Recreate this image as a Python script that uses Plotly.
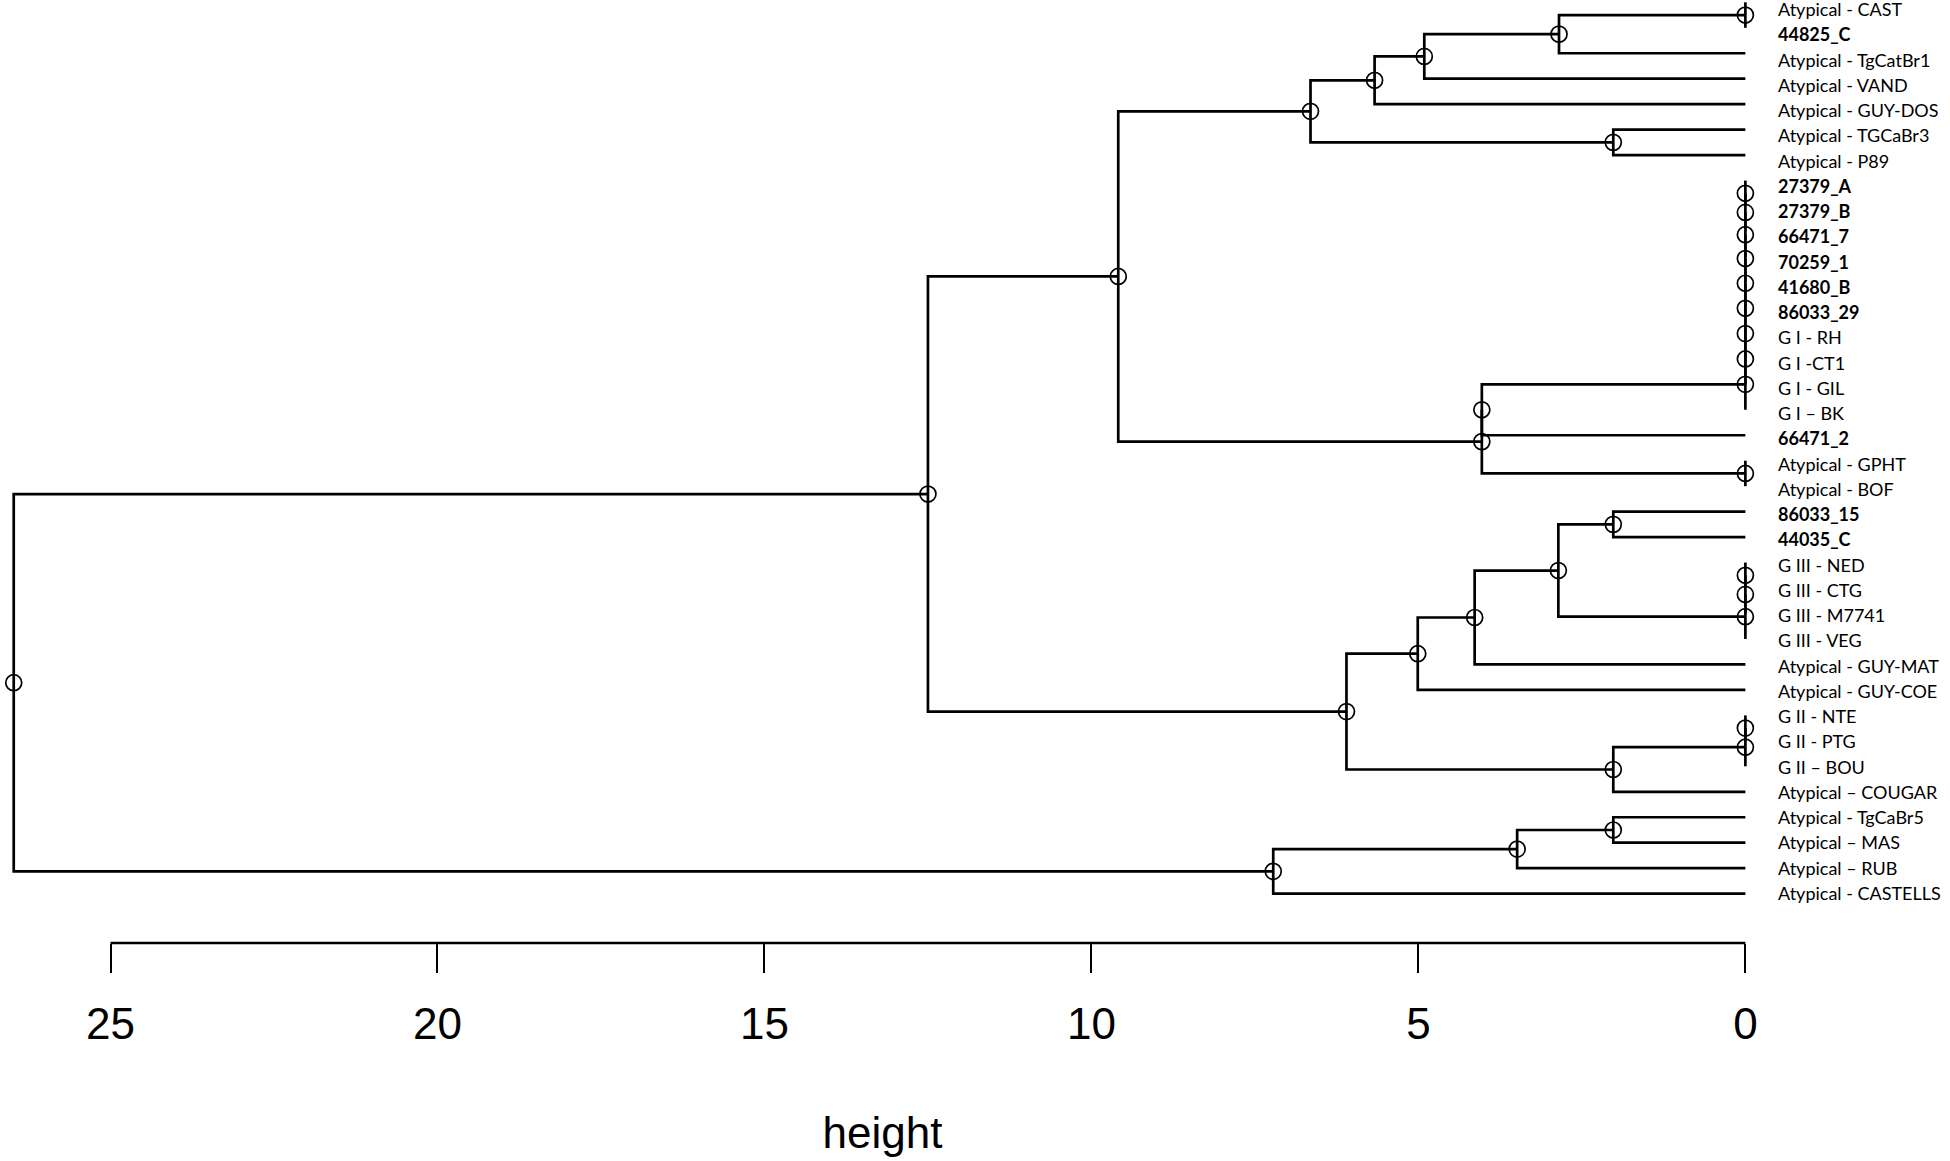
import plotly.graph_objects as go

# Leaf labels, top to bottom
labels = [
    "Atypical - CAST", "44825_C", "Atypical - TgCatBr1", "Atypical - VAND",
    "Atypical - GUY-DOS", "Atypical - TGCaBr3", "Atypical - P89",
    "27379_A", "27379_B", "66471_7", "70259_1", "41680_B", "86033_29",
    "G I - RH", "G I -CT1", "G I - GIL", "G I \u2013 BK", "66471_2",
    "Atypical - GPHT", "Atypical - BOF", "86033_15", "44035_C",
    "G III - NED", "G III - CTG", "G III - M7741", "G III - VEG",
    "Atypical - GUY-MAT", "Atypical - GUY-COE", "G II - NTE", "G II - PTG",
    "G II \u2013 BOU", "Atypical \u2013 COUGAR", "Atypical - TgCaBr5",
    "Atypical \u2013 MAS", "Atypical \u2013 RUB", "Atypical - CASTELLS",
]
bold_labels = ["44825_C", "27379_A", "27379_B", "66471_7", "70259_1",
               "41680_B", "86033_29", "66471_2", "86033_15", "44035_C"]

# hclust-style merges: negative = leaf (1-based, display order), positive = earlier merge
merge_left = [-1, -8, 2, 3, 4, 5, 6, 7, 8, 9, -19, -23, 12, 13, -29, 15,
              -6, -21, -33, 16, 1, 18, 19, 10, 24, 22, 21, 26, 27, 28, 29, 23,
              31, 33, 34]
merge_right = [-2, -9, -10, -11, -12, -13, -14, -15, -16, -17, -20, -24, -25,
               -26, -30, -31, -7, -22, -34, -32, -3, 14, -35, -18, 11, -27,
               -4, -28, -5, 20, 17, -36, 25, 30, 32]
merge_height = [0, 0, 0, 0, 0, 0, 0, 0, 0, 0, 0, 0, 0, 0, 0, 0,
                2.02, 2.02, 2.02, 2.02, 2.85, 2.86, 3.49, 4.03, 4.03, 4.14,
                4.91, 5.01, 5.67, 6.10, 6.65, 7.22, 9.59, 12.50, 26.48]

x_ticks = [0, 5, 10, 15, 20, 25]

n = len(labels)
node_y, node_h = {}, {}


def pos(ref):
    if ref < 0:
        return 0.0, float(-ref - 1)
    return node_h[ref], node_y[ref]


lx, ly, cx, cy = [], [], [], []
for k, (a, b, h) in enumerate(zip(merge_left, merge_right, merge_height), start=1):
    ha, ya = pos(a)
    hb, yb = pos(b)
    y = (ya + yb) / 2
    node_y[k], node_h[k] = y, h
    lx += [ha, h, h, hb, None]
    ly += [ya, ya, yb, yb, None]
    cx.append(h)
    cy.append(y)

fig = go.Figure()
fig.add_trace(go.Scatter(x=lx, y=ly, mode="lines",
                         line=dict(color="black", width=2.7),
                         hoverinfo="skip", showlegend=False))
fig.add_trace(go.Scatter(x=cx, y=cy, mode="markers", cliponaxis=False,
                         marker=dict(symbol="circle-open", size=16, color="black",
                                     line=dict(width=1.7, color="black")),
                         hoverinfo="skip", showlegend=False))
fig.add_trace(go.Scatter(x=[0] * n, y=list(range(n)), yaxis="y2", mode="markers",
                         marker=dict(opacity=0), hoverinfo="skip", showlegend=False))

for i, lab in enumerate(labels):
    txt = f"<b>{lab}</b>" if lab in bold_labels else lab
    fig.add_annotation(x=0, y=i, xref="x", yref="y2", text=txt, showarrow=False,
                       xanchor="left", yanchor="middle", xshift=31,
                       font=dict(family="Lato", size=18, color="black"))

fig.add_shape(type="line", xref="x", yref="paper", x0=max(x_ticks), x1=min(x_ticks),
              y0=0, y1=0, line=dict(color="black", width=2.7))

fig.update_layout(
    width=1950, height=1161,
    margin=dict(l=0, r=185.4, t=0, b=217.5, autoexpand=False),
    paper_bgcolor="white", plot_bgcolor="white",
    xaxis=dict(range=[26.69, -0.3], tickvals=x_ticks, ticktext=[str(t) for t in x_ticks],
               ticks="outside", ticklen=29, tickwidth=2, tickcolor="black",
               showline=False, showgrid=False, zeroline=False, automargin=False,
               ticklabelstandoff=13,
               tickfont=dict(family="Liberation Sans", size=44, color="black"),
               title=dict(text="height", standoff=70,
                          font=dict(family="Liberation Sans", size=44, color="black"))),
    yaxis=dict(range=[36.938, -0.0903], visible=False, fixedrange=True),
    yaxis2=dict(range=[36.98, -0.356], visible=False, overlaying="y", fixedrange=True),
)

fig.write_html("out.html", config={"displayModeBar": False},
               post_script="document.body.style.margin='0';document.body.style.overflow='hidden';")
